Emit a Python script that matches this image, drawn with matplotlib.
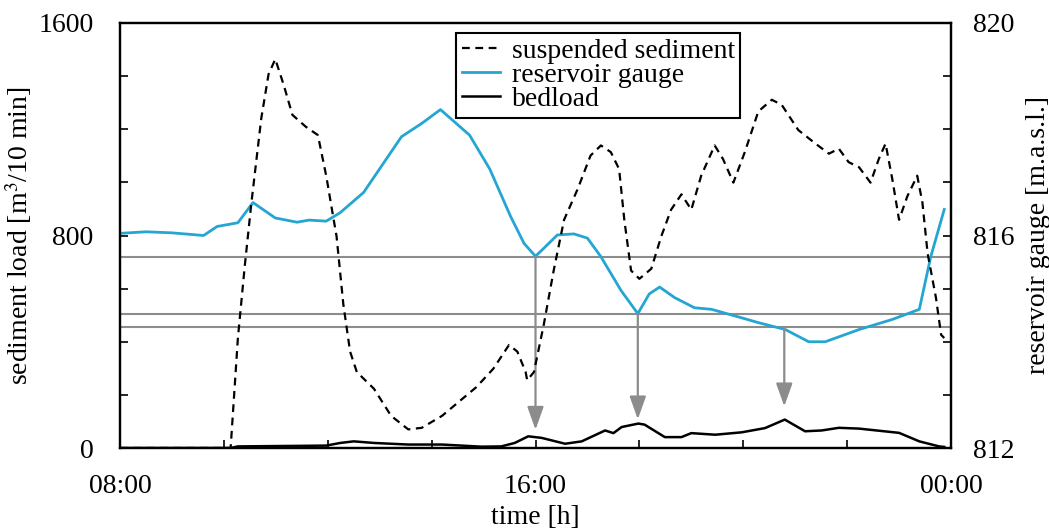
import matplotlib
matplotlib.use("Agg")
import matplotlib.pyplot as plt
from matplotlib.ticker import FixedLocator, MultipleLocator

plt.rcParams['font.family'] = ['Liberation Serif', 'DejaVu Serif']
plt.rcParams['mathtext.fontset'] = 'stix'

# hours after 08:00
sus_t = [0, 2.13, 2.27, 2.40, 2.53, 2.72, 2.86, 2.99, 3.15, 3.32, 3.58, 3.81, 3.97, 4.17,
         4.30, 4.43, 4.56, 4.89, 5.22, 5.55, 5.81, 6.20, 6.86, 7.19, 7.49, 7.65, 7.81,
         7.84, 7.97, 8.16, 8.35, 8.55, 8.81, 9.06, 9.26, 9.45, 9.61, 9.71, 9.84, 10.0,
         10.23, 10.42, 10.61, 10.81, 11.0, 11.19, 11.45, 11.61, 11.81, 12.03, 12.29,
         12.55, 12.74, 13.06, 13.39, 13.65, 13.84, 14.03, 14.23, 14.45, 14.61, 14.74,
         14.87, 15.0, 15.16, 15.35, 15.45, 15.55, 15.71, 15.81, 15.87]
sus_v = [0, 0, 414, 681, 923, 1241, 1407, 1464, 1368, 1254, 1209, 1178, 1025, 796,
         541, 363, 286, 223, 121, 70, 76, 121, 229, 299, 388, 363, 286,
         255, 286, 465, 668, 859, 974, 1101, 1139, 1114, 1050, 859, 668, 637,
         675, 796, 897, 955, 897, 1025, 1139, 1088, 999, 1114, 1267,
         1311, 1292, 1197, 1146, 1108, 1127, 1076, 1057, 999, 1088, 1146,
         1012, 859, 948, 1025, 923, 732, 566, 426, 414]

res_t = [0, 0.5, 1.0, 1.61, 1.87, 2.27, 2.56, 2.99, 3.41, 3.64, 3.97, 4.24, 4.69, 5.42,
         5.81, 6.17, 6.73, 7.12, 7.52, 7.78, 8.0, 8.16, 8.42, 8.74, 9.0, 9.26, 9.65,
         9.97, 10.19, 10.39, 10.68, 11.06, 11.39, 11.97, 12.29, 12.81, 13.26, 13.58,
         14.23, 14.87, 15.39, 15.61, 15.87]
res_v = [816.04, 816.07, 816.05, 816.0, 816.17, 816.24, 816.62, 816.33, 816.25, 816.29,
         816.27, 816.43, 816.81, 817.86, 818.11, 818.37, 817.89, 817.25, 816.36, 815.85,
         815.61, 815.76, 816.01, 816.03, 815.95, 815.6, 814.96, 814.53, 814.9, 815.03,
         814.83, 814.64, 814.61, 814.45, 814.36, 814.23, 814.0, 814.0, 814.23, 814.42,
         814.61, 815.6, 816.49]

bed_t = [0, 2.13, 2.27, 3.97, 4.24, 4.5, 4.89, 5.55, 6.2, 6.96, 7.34, 7.6, 7.86, 8.12,
         8.57, 8.89, 9.34, 9.5, 9.66, 9.98, 10.1, 10.49, 10.81, 11.0, 11.46, 11.97,
         12.42, 12.8, 13.19, 13.51, 13.84, 14.23, 15.0, 15.39, 15.77, 15.87]
bed_v = [0, 0, 6, 9, 19, 25, 19, 13, 13, 5, 6, 19, 44, 38,
         16, 25, 66, 56, 79, 92, 88, 41, 41, 56, 50, 59,
         75, 107, 63, 66, 76, 73, 57, 25, 6, 4]

# gauge minima marked by horizontal lines, and arrows down to bedload peaks
levels = [815.6, 814.53, 814.27]
arrow_t = [8.0, 9.97, 12.79]
arrow_tip = [69, 108, 157]

BLUE = '#25a6d2'
GREY = '#8c8c8c'
FS = 20

fig = plt.figure(figsize=(10.49, 5.32), dpi=100)
ax = fig.add_axes([120/1049, 1-448/532, 831/1049, 425/532])
ax2 = ax.twinx()

ax.set_xlim(0, 16)
ax.set_ylim(0, 1600)
ax2.set_ylim(812, 820)

for lv in levels:
    ax2.axhline(lv, color=GREY, lw=1.5, zorder=1)

for t, lv, tip in zip(arrow_t, levels, arrow_tip):
    ax.annotate('', xy=(t, tip), xytext=(t, (lv - 812) * 200),
                arrowprops=dict(arrowstyle='-|>,head_length=1.4,head_width=0.5',
                                color=GREY, lw=1.6, shrinkA=0, shrinkB=0))

ax2.plot(res_t, res_v, color=BLUE, lw=2.0, zorder=3)
l1, = ax.plot(sus_t, sus_v, color='black', lw=1.6, dashes=(3.5, 2.5), zorder=4)
l3, = ax.plot(bed_t, bed_v, color='black', lw=1.8, zorder=4)
l2, = ax.plot([], [], color=BLUE, lw=2.0)
ax.set_zorder(ax2.get_zorder() + 1)
ax.patch.set_visible(False)

ax.xaxis.set_major_locator(FixedLocator([0, 8, 16]))
ax.xaxis.set_minor_locator(MultipleLocator(2))
ax.set_xticklabels(['08:00', '16:00', '00:00'])
ax.yaxis.set_major_locator(FixedLocator([0, 800, 1600]))
ax.yaxis.set_minor_locator(MultipleLocator(200))
ax2.yaxis.set_major_locator(FixedLocator([812, 816, 820]))
ax2.yaxis.set_minor_locator(MultipleLocator(1))

ax.tick_params(axis='both', which='both', direction='in', length=6, width=1.2,
               labelsize=FS)
ax.tick_params(axis='y', pad=19)
ax.tick_params(axis='x', pad=19)
ax.tick_params(axis='y', which='both', right=False)
ax2.tick_params(axis='y', which='both', direction='in', length=6, width=1.2,
                labelsize=FS, pad=16)
for a in (ax, ax2):
    for s in a.spines.values():
        s.set_linewidth(1.6)

ax.set_xlabel('time [h]', fontsize=FS, labelpad=4)
ax.set_ylabel('sediment load [m$^3$/10 min]', fontsize=FS, labelpad=3)
ax2.set_ylabel('reservoir gauge [m.a.s.l.]', fontsize=FS, rotation=90, labelpad=8)

leg = ax.legend([l1, l2, l3], ['suspended sediment', 'reservoir gauge', 'bedload'],
                loc='upper left', bbox_to_anchor=(456/1049, 1-33/532),
                bbox_transform=fig.transFigure, borderaxespad=0, fontsize=FS,
                fancybox=False, edgecolor='black', framealpha=1,
                handlelength=1.4, handletextpad=0.4, labelspacing=-0.05,
                borderpad=0.2)
leg.get_frame().set_linewidth(1.5)

fig.savefig('out.png', dpi=100)
